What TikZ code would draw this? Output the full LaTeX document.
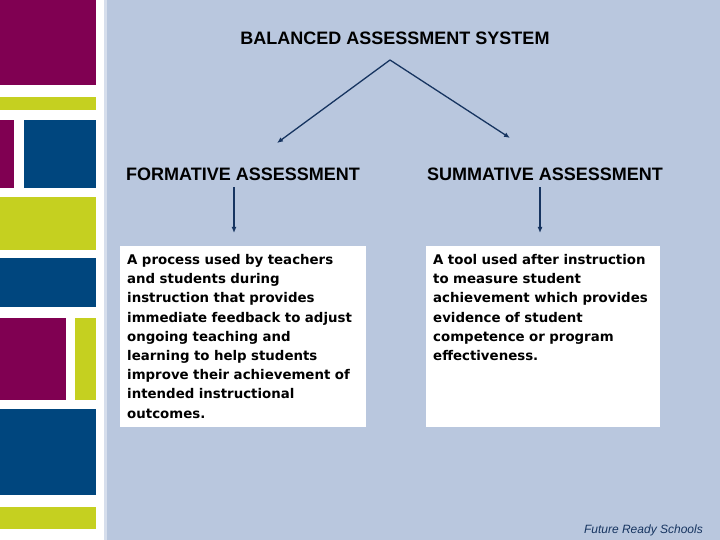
\documentclass[tikz,border=0pt]{standalone}
\usepackage{fontspec}
\setmainfont{Liberation Sans}
\newfontfamily\boxfont{DejaVu Sans}
\usetikzlibrary{calc,arrows.meta}
\definecolor{slidebg}{RGB}{185,199,222}
\definecolor{edgeline}{RGB}{214,222,236}
\definecolor{plum}{RGB}{128,0,82}
\definecolor{navy}{RGB}{0,70,126}
\definecolor{lime}{RGB}{197,208,32}
\definecolor{arrowblue}{RGB}{22,52,96}

\begin{document}
\begin{tikzpicture}[x=1pt,y=-1pt,
  heading/.style={font=\bfseries\fontsize{18}{20}\selectfont,inner sep=0pt},
  descbox/.style={fill=white,minimum height=181pt,inner sep=0pt},
  desctext/.style={font=\boxfont\bfseries\fontsize{13.35}{19.2}\selectfont,text width=232pt,align=left,inner sep=0pt},
  link/.style={-{Latex[length=6pt,width=5pt]},line width=1.3pt,color=arrowblue}]
\useasboundingbox (0,0) rectangle (720,540);

% slide background
\fill[white] (0,0) rectangle (720,540);
\fill[edgeline] (104,0) rectangle (107,540);
\fill[slidebg] (107,0) rectangle (720,540);

% left strip
\foreach\xa/\ya/\xb/\yb/\c in {0/0/96/85/plum, 0/97/96/110/lime, 0/120/14/188/plum,
  24/120/96/188/navy, 0/197/96/250/lime, 0/258/96/307/navy, 0/318/66/400/plum,
  75/318/96/400/lime, 0/409/96/495/navy, 0/507/96/529/lime}
\fill[\c] (\xa,\ya) rectangle (\xb,\yb);

% headings
\node[heading,anchor=base] (system) at (395,45) {BALANCED ASSESSMENT SYSTEM};
\node[heading,anchor=base] (formative) at (243,181) {FORMATIVE ASSESSMENT};
\node[heading,anchor=base] (summative) at (545,181) {SUMMATIVE ASSESSMENT};

% boxes
\node[descbox,minimum width=246pt,anchor=north west] (formbox) at (120,246) {};
\node[descbox,minimum width=234pt,anchor=north west] (sumbox) at (426,246) {};
\node[desctext,anchor=base west] (formtext) at (127,264.5) {A process used by teachers\\
and students during\\
instruction that provides\\
immediate feedback to adjust\\
ongoing teaching and\\
learning to help students\\
improve their achievement of\\
intended instructional\\
outcomes.};
\node[desctext,anchor=base west] (sumtext) at (433,264.5) {A tool used after instruction\\
to measure student\\
achievement which provides\\
evidence of student\\
competence or program\\
effectiveness.};

% arrows
\coordinate (apex) at (390,60);
\coordinate (lefttip) at (277,143);
\coordinate (righttip) at (510,138);
\draw[link] (apex) -- (lefttip);
\draw[link] (apex) -- (righttip);
\draw[link] (formative.south -| 234,0) ++(0,6) -- ($(formbox.north -| 234,0)+(0,-13)$);
\draw[link] (summative.south -| 540,0) ++(0,6) -- ($(sumbox.north -| 540,0)+(0,-13)$);

% footer
\node[font=\itshape\fontsize{12}{14}\selectfont,text=arrowblue,anchor=base east,inner sep=0pt] (footer) at (703,533.5) {Future Ready Schools};
\end{tikzpicture}
\end{document}
